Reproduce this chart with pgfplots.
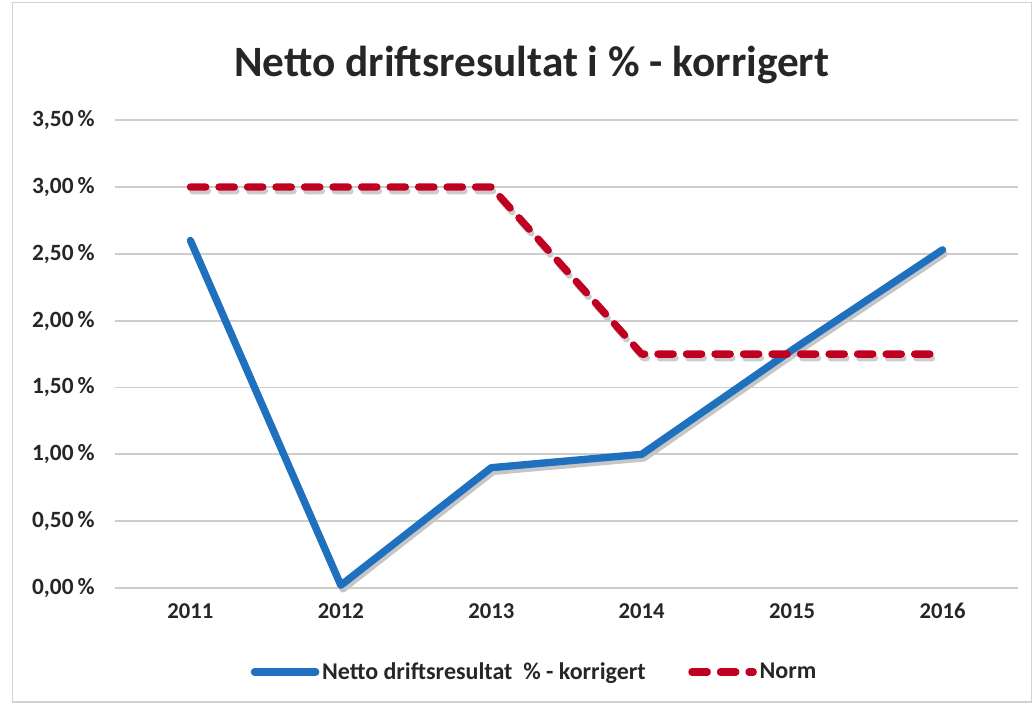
\documentclass[border=0pt]{standalone}
\usepackage{pgfplots}
\pgfplotsset{compat=1.18}
\usepackage{fontspec}
\setmainfont{Carlito}
\definecolor{bl}{RGB}{31,112,190}
\definecolor{rd}{RGB}{192,0,32}
\definecolor{txt}{RGB}{38,38,38}
\definecolor{grd}{RGB}{205,205,205}
\begin{document}
\begin{tikzpicture}
\path[draw=white] (0pt,0pt) rectangle (776.25pt,528pt);
\draw[gray!35,line width=1pt] (9pt,1.5pt) rectangle (774pt,526.5pt);
\begin{axis}[
  at={(86.25pt,87pt)}, anchor=south west,
  scale only axis, width=677.25pt, height=351pt,
  xmin=2010.5, xmax=2016.5, ymin=0, ymax=3.5,
  axis line style={draw=none},
  tick style={draw=none},
  xtick={2011,2012,2013,2014,2015,2016},
  xticklabels={2011,2012,2013,2014,2015,2016},
  ytick={0,0.5,1,1.5,2,2.5,3,3.5},
  yticklabels={{0,00\,\%},{0,50\,\%},{1,00\,\%},{1,50\,\%},{2,00\,\%},{2,50\,\%},{3,00\,\%},{3,50\,\%}},
  ymajorgrids, major grid style={grd, line width=1.3pt},
  ticklabel style={font=\fontsize{17}{20}\selectfont\bfseries, text=txt},
  yticklabel style={xshift=-12pt, font=\fontsize{17.5}{20}\selectfont\bfseries},
  xticklabel style={yshift=-8pt},
  title={Netto driftsresultat i \% - korrigert},
  title style={font=\fontsize{32.5}{38}\selectfont\bfseries, text=txt, yshift=18pt, xshift=-26pt},
  legend columns=2,
  legend style={draw=none, fill=none, at={(0.465,0)}, anchor=center, yshift=-63pt,
    font=\fontsize{18}{21}\selectfont\bfseries, text=txt,
    /tikz/every even column/.append style={column sep=30pt}},
  legend image code/.code={\draw[#1] (0pt,0pt) -- (46pt,0pt);},
  clip=false,
]
\addplot[forget plot, gray!45, line width=5pt, line join=round, line cap=round, xshift=1.5pt, yshift=-3pt]
  coordinates {(2011,2.60) (2012,0.02) (2013,0.90) (2014,1.00) (2015,1.78) (2016,2.53)};
\addplot[forget plot, gray!40, line width=5pt, line join=round, line cap=round, dash pattern=on 11.5pt off 9.9pt, xshift=1.5pt, yshift=-3pt]
  coordinates {(2011,3.00) (2012,3.00) (2013,3.00) (2014,1.75) (2015,1.75) (2016,1.75)};
\addplot[bl, line width=5.5pt, line join=round, line cap=round]
  coordinates {(2011,2.60) (2012,0.02) (2013,0.90) (2014,1.00) (2015,1.78) (2016,2.53)};
\addlegendentry{Netto driftsresultat\ \ \% - korrigert}
\addplot[rd, line width=5.5pt, line join=round, line cap=round, dash pattern=on 11.5pt off 9.9pt]
  coordinates {(2011,3.00) (2012,3.00) (2013,3.00) (2014,1.75) (2015,1.75) (2016,1.75)};
\addlegendentry{Norm}
\end{axis}
\end{tikzpicture}
\end{document}
